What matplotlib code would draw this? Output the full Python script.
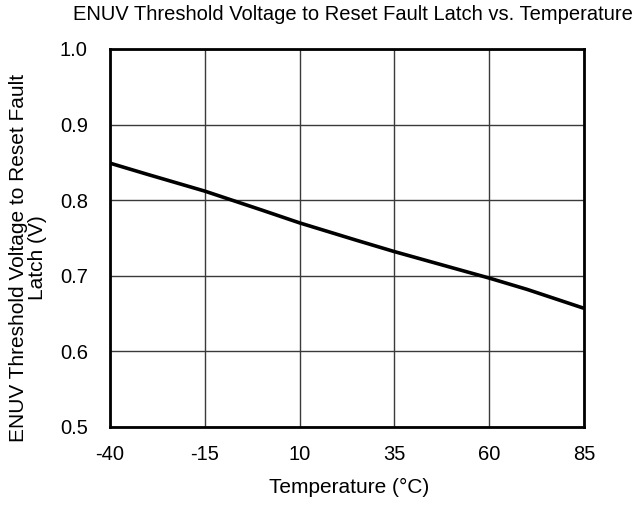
import matplotlib
matplotlib.use("Agg")
import matplotlib.pyplot as plt

# values
temps = [-40, -30, -15, 0, 10, 25, 35, 50, 60, 70, 85]
volts = [0.849, 0.834, 0.812, 0.787, 0.770, 0.747, 0.732, 0.711, 0.697, 0.682, 0.657]

xticks = [-40, -15, 10, 35, 60, 85]
yticks = [0.5, 0.6, 0.7, 0.8, 0.9, 1.0]

plt.rcParams['font.family'] = ['Liberation Sans', 'DejaVu Sans']

fig = plt.figure(figsize=(6.38, 5.05), dpi=100)
ax = fig.add_axes([110/638, 1 - 427/505, 474/638, 378/505])

ax.plot(temps, volts, color="black", linewidth=2.6, solid_capstyle="butt")

ax.set_xlim(-40, 85)
ax.set_ylim(0.5, 1.0)
ax.set_xticks(xticks)
ax.set_yticks(yticks)
ax.set_xticklabels([str(t) for t in xticks])
ax.set_yticklabels(["%.1f" % v for v in yticks])
ax.tick_params(length=0, labelsize=14.5)
ax.tick_params(axis="x", pad=13)
ax.tick_params(axis="y", pad=16)
ax.grid(True, color="#3a3a3a", linewidth=1.0)
for s in ax.spines.values():
	s.set_linewidth(2.0)
	s.set_color("black")

fig.text(353/638, 1 - 15/505, "ENUV Threshold Voltage to Reset Fault Latch vs. Temperature",
	ha="center", va="center", fontsize=14.5)
fig.text(349/638, 1 - 487/505, "Temperature (\u00b0C)", ha="center", va="center", fontsize=15)
fig.text(28/638, 1 - 258/505, "ENUV Threshold Voltage to Reset Fault\nLatch (V)",
	ha="center", va="center", rotation=90, fontsize=15, linespacing=0.95)

fig.savefig("out.png", dpi=100)
